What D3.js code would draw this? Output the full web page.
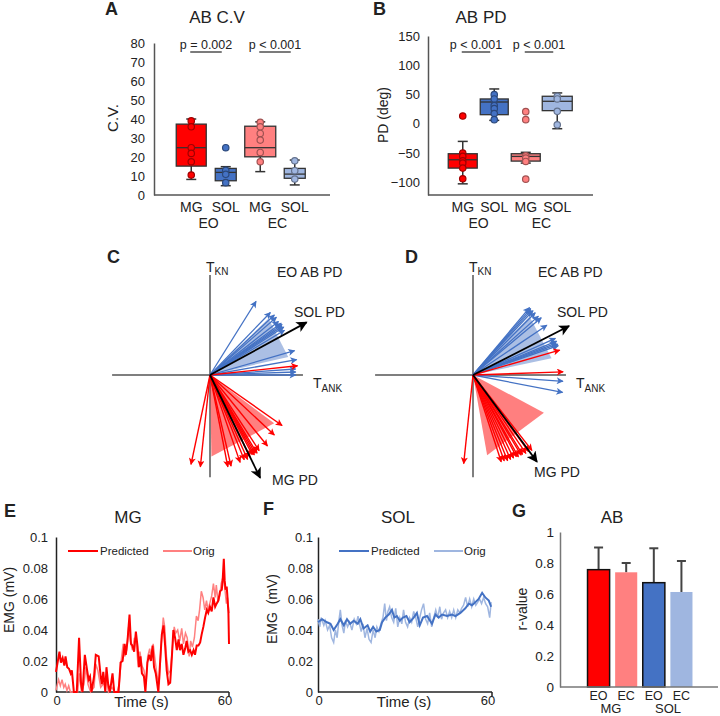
<!DOCTYPE html>
<html>
<head>
<meta charset="utf-8">
<script src="https://cdn.jsdelivr.net/npm/d3@7/dist/d3.min.js"></script>
<style>
body { margin: 0; background: #fff; }
text { font-family: "Liberation Sans", Arial, sans-serif; fill: #222; }
</style>
</head>
<body>
<script>
// ---- data ----
var boxGroups = ["MG EO", "SOL EO", "MG EC", "SOL EC"];
var boxMuscle = ["MG", "SOL", "MG", "SOL"];
var boxCond = ["EO", "EC"];
var boxColors = ["#ff0000", "#4472c4", "#ff8080", "#9fb6e0"];

// A: C.V. boxes
var cvTicks = [0, 10, 20, 30, 40, 50, 60, 70, 80];
var cvLo  = [8.2, 4.9, 12.3, 5.3];
var cvQ1  = [15.2, 7.5, 20.1, 8.8];
var cvMed = [24.9, 11.9, 24.9, 11.0];
var cvQ3  = [37.3, 14.0, 36.2, 14.0];
var cvHi  = [40.0, 14.9, 38.5, 18.4];
var cvPts = [[39, 35.9, 24.9, 21.9, 17.5, 10.5], [24.9, 13, 10.9, 6.5], [38.2, 35.9, 32.4, 28.9, 22.4, 17.5], [18, 12.8, 8.4]];
var cvP = ["p = 0.002", "p < 0.001"];

// B: PD boxes
var pdTicks = [-100, -50, 0, 50, 100, 150];
var pdLo  = [-102.9, 5.7, -67.4, -8.6];
var pdQ1  = [-76, 15.4, -64, 22.3];
var pdMed = [-61.7, 37.1, -56, 38.3];
var pdQ3  = [-51.4, 42.3, -51.4, 46.9];
var pdHi  = [-30.3, 59.4, -49, 52.6];
var pdPts = [[13.1, -50.3, -56, -63.4, -67.4, -76, -94.3], [49.7, 42.3, 30.9, 25.7, 17.4, 6.9], [20.6, 6.9, -54.9, -58.9, -64.6, -94.9], [46.9, 42.3, 21.1, -2]];
var pdP = ["p < 0.001", "p < 0.001"];

// C / D: PD vectors (angle deg, length)
var cBlueAng = [58, 46, 43, 41, 38, 36, 35, 34, 33, 31, 16, 10, 4, 2, 0];
var cBlueLen = [0.79, 0.79, 0.8, 0.8, 0.79, 0.8, 0.8, 0.79, 0.8, 0.79, 0.8, 0.8, 0.78, 0.78, 0.78];
var cRedAng = [6, -35, -43, -51, -57, -59, -60, -61, -62, -64, -66, -68, -71, -77, -79, -96, -102];
var cRedLen = [0.8, 0.8, 0.8, 0.83, 0.82, 0.83, 0.82, 0.83, 0.82, 0.83, 0.84, 0.83, 0.84, 0.85, 0.85, 0.84, 0.83];
var cMeanAng = [28.6, -64];
var cMeanLen = [1.0, 1.04];
var cWedgeBlue = [13, 44];
var cWedgeRed = [-37, -89];

var dBlueAng = [50, 49, 48, 47, 45, 42, 40, 34, 24, 22, 21, 20, 19, -4, -11];
var dBlueLen = [0.8, 0.8, 0.79, 0.8, 0.8, 0.8, 0.81, 0.81, 0.82, 0.82, 0.81, 0.82, 0.82, 0.82, 0.83];
var dRedAng = [16, 2, -52, -54, -56, -58, -59, -61, -62, -64, -66, -68, -70, -72, -96];
var dRedLen = [0.82, 0.82, 0.87, 0.86, 0.86, 0.85, 0.85, 0.85, 0.84, 0.84, 0.84, 0.84, 0.83, 0.83, 0.81];
var dMeanAng = [27, -53.6];
var dMeanLen = [0.98, 0.98];
var dWedgeBlue = [12, 46];
var dWedgeRed = [-28, -80];

// E / F: EMG traces [time s, mV]
var mgPred = [[0,0.013],[1.2,0.026],[1.7,0.019],[2.3,0.022],[2.9,0.017],[3.3,0.023],[3.9,0.016],[4.5,0.015],[5.1,0.012],[5.5,0.014],[6.2,0],[7.2,0],[8.0,0.035],[8.7,0.005],[9.2,0],[10.0,0.024],[10.8,0.014],[11.3,0.008],[11.8,0.010],[12.3,0],[13.2,0.010],[13.8,0.024],[14.8,0.023],[15.5,0.010],[15.9,0.005],[16.4,0.013],[17.1,0],[17.5,0.016],[18.1,0.005],[18.7,0],[19.6,0.012],[20.2,0],[21.7,0],[22.4,0.019],[23.1,0.020],[23.8,0.031],[24.2,0.024],[24.8,0.033],[25.5,0.050],[26.0,0.031],[26.5,0.030],[27.1,0.026],[27.7,0.039],[28.3,0.029],[28.8,0.016],[29.3,0.023],[29.8,0.012],[30.5,0.010],[31.0,0],[31.7,0.019],[32.3,0.024],[32.9,0.020],[33.5,0.030],[34.0,0.016],[34.6,0.012],[35.5,0],[36.1,0.019],[36.7,0.037],[37.3,0.043],[37.8,0.031],[38.4,0.014],[39.0,0.005],[39.6,0.006],[40.2,0.023],[40.7,0.040],[41.3,0.035],[41.9,0.027],[42.5,0.034],[43.0,0.027],[43.6,0.031],[44.2,0.024],[44.8,0.028],[45.3,0.033],[45.9,0.026],[46.5,0.027],[47.1,0.024],[47.7,0.027],[48.2,0.024],[48.8,0.030],[49.4,0.030],[50.0,0.032],[50.5,0.037],[51.1,0.042],[51.7,0.048],[52.3,0.053],[52.8,0.051],[53.4,0.055],[54.0,0.052],[54.6,0.061],[55.2,0.055],[55.7,0.057],[56.3,0.059],[56.9,0.065],[57.5,0.066],[57.8,0.072],[58.2,0.086],[58.5,0.072],[58.8,0.066],[59.2,0.068],[59.4,0.063],[59.8,0.051],[60.0,0.031]];
var mgOrig = [[0,0.001],[0.5,0.005],[0.9,0.008],[1.5,0.004],[2.1,0.008],[2.7,0.003],[3.2,0.005],[3.8,0.001],[4.4,0.004],[5.0,0],[7.5,0],[8.1,0.012],[8.8,0],[9.7,0.005],[10.4,0.016],[11.1,0.005],[12.0,0],[13.2,0.003],[13.8,0.018],[14.5,0.014],[15.5,0.003],[16.4,0.005],[17.3,0.010],[18.2,0],[19.4,0.003],[20.3,0],[21.2,0],[21.9,0.005],[22.6,0.020],[23.3,0.031],[23.9,0.023],[24.5,0.027],[25.2,0.042],[25.8,0.033],[26.5,0.027],[27.2,0.035],[27.9,0.031],[28.5,0.016],[29.1,0.026],[29.8,0.017],[30.5,0.014],[31.2,0.005],[31.8,0.023],[32.5,0.028],[33.1,0.020],[33.7,0.031],[34.4,0.020],[35.1,0.010],[35.8,0.005],[36.5,0.031],[37.2,0.048],[37.7,0.042],[38.3,0.023],[39.0,0.012],[39.7,0.014],[40.4,0.029],[41.0,0.042],[41.5,0.038],[42.2,0.040],[42.9,0.033],[43.6,0.041],[44.2,0.031],[44.9,0.038],[45.5,0.035],[46.2,0.023],[46.7,0.033],[47.3,0.029],[48.0,0.035],[48.7,0.049],[49.3,0.046],[49.8,0.053],[50.4,0.065],[51.0,0.061],[51.6,0.053],[52.2,0.059],[52.7,0.053],[53.3,0.057],[54.0,0.062],[54.6,0.070],[55.2,0.061],[55.6,0.069],[56.2,0.058],[56.8,0.062],[57.3,0.070],[57.9,0.074],[58.5,0.068],[59.1,0.057],[59.5,0.061],[60.0,0.051]];
var solPred = [[0,0.045],[1.4,0.047],[3.1,0.045],[4.3,0.044],[5.4,0.040],[6.8,0.044],[7.7,0.047],[8.9,0.043],[10.0,0.047],[11.1,0.044],[12.3,0.046],[13.7,0.044],[14.6,0.047],[15.7,0.041],[17.1,0.043],[18.0,0.039],[19.0,0.042],[20.1,0.039],[21.3,0.040],[22.1,0.045],[23.2,0.048],[24.4,0.050],[25.5,0.053],[26.3,0.048],[27.2,0.049],[28.2,0.046],[29.3,0.048],[30.5,0.049],[31.6,0.045],[33.0,0.048],[34.1,0.051],[35.1,0.043],[36.2,0.048],[37.6,0.049],[39.3,0.044],[40.5,0.050],[41.6,0.048],[42.8,0.050],[44.5,0.049],[46.2,0.050],[47.4,0.049],[49.1,0.051],[50.8,0.054],[52.0,0.057],[53.1,0.056],[54.3,0.058],[55.4,0.060],[56.6,0.064],[57.7,0.061],[58.9,0.059],[59.7,0.055]];
var solOrig = [[0,0.047],[0.6,0.042],[1.1,0.048],[2.0,0.043],[2.5,0.046],[3.3,0.040],[4.0,0.043],[4.7,0.035],[5.4,0.032],[6.0,0.040],[6.6,0.035],[7.2,0.046],[7.7,0.053],[8.3,0.043],[8.9,0.038],[9.5,0.046],[10.2,0.042],[10.9,0.045],[11.7,0.040],[12.5,0.047],[13.2,0.044],[13.8,0.049],[14.4,0.043],[14.9,0.039],[15.5,0.044],[16.2,0.035],[16.9,0.041],[17.6,0.034],[18.3,0.032],[19.0,0.040],[19.7,0.035],[20.3,0.042],[21.0,0.039],[21.7,0.044],[22.4,0.048],[23.0,0.057],[23.6,0.046],[24.1,0.052],[24.7,0.055],[25.4,0.048],[26.1,0.045],[26.8,0.054],[27.5,0.042],[28.2,0.048],[28.9,0.044],[29.5,0.053],[30.2,0.045],[30.9,0.042],[31.6,0.048],[32.3,0.045],[33.0,0.052],[33.7,0.048],[34.4,0.042],[35.1,0.048],[35.7,0.053],[36.4,0.057],[37.1,0.047],[37.8,0.044],[38.5,0.051],[39.2,0.042],[39.9,0.048],[40.6,0.053],[41.3,0.048],[42.0,0.055],[42.6,0.047],[43.3,0.051],[44.0,0.053],[44.7,0.048],[45.4,0.052],[46.1,0.048],[46.8,0.053],[47.5,0.048],[48.2,0.053],[48.9,0.051],[49.5,0.054],[50.2,0.056],[50.9,0.061],[51.6,0.055],[52.3,0.060],[53.0,0.055],[53.7,0.060],[54.4,0.056],[55.1,0.058],[55.7,0.060],[56.4,0.057],[57.1,0.061],[57.8,0.057],[58.5,0.055],[59.2,0.048],[59.7,0.058]];
var emgTicks = [0, 0.02, 0.04, 0.06, 0.08, 0.1];
var emgTickLabels = ["0", "0.02", "0.04", "0.06", "0.08", "0.1"];

// G: r-values
var rGroups = ["MG EO", "MG EC", "SOL EO", "SOL EC"];
var rCond = ["EO", "EC", "EO", "EC"];
var rMean = [0.757, 0.74, 0.673, 0.613];
var rErrTop = [0.9, 0.8, 0.895, 0.813];
var rColors = ["#ff0000", "#ff8080", "#4472c4", "#9fb6e0"];
var rTicks = [0, 0.2, 0.4, 0.6, 0.8, 1];
var rTickLabels = ["0", "0.2", "0.4", "0.6", "0.8", "1"];

var svg = d3.select("body").append("svg")
    .attr("width", 720)
    .attr("height", 716);

function label(x, y, t, size, opts) {
  opts = opts || {};
  var el = svg.append("text")
      .attr("x", x).attr("y", y)
      .attr("font-size", size + "px")
      .attr("text-anchor", opts.anchor || "start")
      .text(t);
  if (opts.bold) el.attr("font-weight", "bold");
  if (opts.rotate) el.attr("transform", "rotate(-90," + x + "," + y + ")");
  return el;
}

// ---- box plot panels (A, B) ----
function boxPanel(o) {
  var g = svg.append("g");
  var x = d3.scaleBand().domain(boxGroups).range(o.xr);
  var y = d3.scaleLinear().domain(o.yd).range([195, o.ytop]);

  var yAxis = g.append("g")
      .attr("transform", "translate(" + o.axisX + ",0)")
      .call(d3.axisLeft(y).tickValues(o.ticks).tickSize(0).tickPadding(o.pad));
  yAxis.select(".domain").attr("stroke", "#555").attr("stroke-width", 1.5);
  yAxis.selectAll("text").attr("font-size", "13px").attr("fill", "#222")
      .attr("font-family", "Liberation Sans, Arial, sans-serif");

  g.append("line")
      .attr("x1", o.axisX).attr("x2", o.xEnd)
      .attr("y1", 195).attr("y2", 195)
      .attr("stroke", "#555").attr("stroke-width", 1.5);

  boxGroups.forEach(function(k, i) {
    var cx = x(k) + x.bandwidth() / 2;
    var w = o.bw[i];
    var col = boxColors[i];
    g.append("line").attr("x1", cx).attr("x2", cx)
        .attr("y1", y(o.lo[i])).attr("y2", y(o.hi[i]))
        .attr("stroke", "#333").attr("stroke-width", 1.5);
    [o.lo[i], o.hi[i]].forEach(function(v) {
      g.append("line").attr("x1", cx - 5).attr("x2", cx + 5)
          .attr("y1", y(v)).attr("y2", y(v))
          .attr("stroke", "#333").attr("stroke-width", 1.5);
    });
    g.append("rect")
        .attr("x", cx - w / 2).attr("width", w)
        .attr("y", y(o.q3[i])).attr("height", y(o.q1[i]) - y(o.q3[i]))
        .attr("fill", col).attr("stroke", "#333").attr("stroke-width", 1.3);
    g.append("line").attr("x1", cx - w / 2).attr("x2", cx + w / 2)
        .attr("y1", y(o.med[i])).attr("y2", y(o.med[i]))
        .attr("stroke", "#333").attr("stroke-width", 1.3);
    g.selectAll(null).data(o.pts[i]).enter().append("circle")
        .attr("cx", cx).attr("cy", function(d) { return y(d); })
        .attr("r", 3.2)
        .attr("fill", col)
        .attr("stroke", d3.color(col).darker(1.3))
        .attr("stroke-width", 1.2);
    label(cx, 212, boxMuscle[i], 14, {anchor: "middle"});
  });

  boxCond.forEach(function(c, j) {
    var c1 = x(boxGroups[j * 2]) + x.bandwidth() / 2;
    var c2 = x(boxGroups[j * 2 + 1]) + x.bandwidth() / 2;
    label((c1 + c2) / 2, 228, c, 14, {anchor: "middle"});
    // significance bar
    var l1 = c1 - 1, l2 = c2 - 4;
    g.append("line").attr("x1", l1).attr("x2", l2).attr("y1", 52).attr("y2", 52)
        .attr("stroke", "#333").attr("stroke-width", 1.3);
    label((l1 + l2) / 2, 49, o.p[j], 12.5, {anchor: "middle"});
  });
}

boxPanel({xr: [174, 312], yd: [0, 80], ytop: 43, axisX: 154, xEnd: 330, ticks: cvTicks, pad: 9,
  bw: [30, 21, 31, 21], lo: cvLo, q1: cvQ1, med: cvMed, q3: cvQ3, hi: cvHi, pts: cvPts, p: cvP});
boxPanel({xr: [447, 573], yd: [-122, 150], ytop: 36, axisX: 428, xEnd: 593, ticks: pdTicks, pad: 8,
  bw: [29, 28, 29, 30], lo: pdLo, q1: pdQ1, med: pdMed, q3: pdQ3, hi: pdHi, pts: pdPts, p: pdP});

label(105, 15, "A", 18, {bold: true});
label(373, 15, "B", 18, {bold: true});
label(217, 23, "AB C.V", 17, {anchor: "middle"});
label(481, 23, "AB PD", 17, {anchor: "middle"});
label(118, 118, "C.V.", 15, {anchor: "middle", rotate: true});
label(388, 115, "PD (deg)", 14, {anchor: "middle", rotate: true});

// ---- vector panels (C, D) ----
var defs = svg.append("defs");
function marker(id, col, w, h) {
  defs.append("marker")
      .attr("id", id)
      .attr("viewBox", "0 0 10 10")
      .attr("refX", 9).attr("refY", 5)
      .attr("markerUnits", "userSpaceOnUse")
      .attr("markerWidth", w).attr("markerHeight", h)
      .attr("orient", "auto")
    .append("path")
      .attr("d", "M0,0 L10,5 L0,10 L2.5,5 Z")
      .attr("fill", col);
}
marker("ah-blue", "#4472c4", 8, 7);
marker("ah-red", "#ff0000", 8, 7);
marker("ah-black", "#000", 12, 11);

function vecPanel(o) {
  var g = svg.append("g");
  var r = d3.scaleLinear().domain([0, 1]).range([0, 110]);
  function pt(a, m) {
    var rad = a * Math.PI / 180;
    return [o.ox + r(m) * Math.cos(rad), o.oy - r(m) * Math.sin(rad)];
  }
  var axCol = "#555";
  var h0 = pt(180, 0.89), h1 = pt(0, 0.845), v0 = pt(90, 0.91), v1 = pt(-90, 0.93);
  g.append("line").attr("x1", h0[0]).attr("y1", h0[1]).attr("x2", h1[0]).attr("y2", h1[1])
      .attr("stroke", axCol).attr("stroke-width", 1.5);
  g.append("line").attr("x1", v0[0]).attr("y1", v0[1]).attr("x2", v1[0]).attr("y2", v1[1])
      .attr("stroke", axCol).attr("stroke-width", 1.5);

  function wedge(a, col, op) {
    var p1 = pt(a[0], 0.73), p2 = pt(a[1], 0.74);
    g.append("path")
        .attr("d", "M" + o.ox + "," + o.oy + "L" + p1.join(",") + "L" + p2.join(",") + "Z")
        .attr("fill", col).attr("fill-opacity", op);
  }
  wedge(o.wBlue, "#4472c4", 0.45);
  wedge(o.wRed, "#ff0000", 0.5);

  function arrows(ang, len, col, mk, sw) {
    ang.forEach(function(a, i) {
      var p = pt(a, len[i]);
      g.append("line")
          .attr("x1", o.ox).attr("y1", o.oy).attr("x2", p[0]).attr("y2", p[1])
          .attr("stroke", col).attr("stroke-width", sw)
          .attr("marker-end", "url(#" + mk + ")");
    });
  }
  arrows(o.blueAng, o.blueLen, "#4472c4", "ah-blue", 1.3);
  arrows(o.redAng, o.redLen, "#ff0000", "ah-red", 1.4);
  arrows(o.meanAng, o.meanLen, "#000", "ah-black", 1.8);
}

vecPanel({ox: 210, oy: 375, blueAng: cBlueAng, blueLen: cBlueLen, redAng: cRedAng, redLen: cRedLen,
  meanAng: cMeanAng, meanLen: cMeanLen, wBlue: cWedgeBlue, wRed: cWedgeRed});
vecPanel({ox: 473, oy: 375, blueAng: dBlueAng, blueLen: dBlueLen, redAng: dRedAng, redLen: dRedLen,
  meanAng: dMeanAng, meanLen: dMeanLen, wBlue: dWedgeBlue, wRed: dWedgeRed});

label(107, 263, "C", 18, {bold: true});
label(405, 263, "D", 18, {bold: true});
[[210, "EO AB PD", 277, 262], [473, "EC AB PD", 538, 258]].forEach(function(d) {
  var ox = d[0];
  var t = label(ox - 4, 272, "T", 14);
  t.append("tspan").attr("font-size", "10px").attr("dy", 3).text("KN");
  var ta = label(ox + 103, 388, "T", 14);
  ta.append("tspan").attr("font-size", "10px").attr("dy", 4).text("ANK");
  label(d[2], 277, d[1], 14);
  label(ox + 84, 317, "SOL PD", 14);
});
label(272, 485, "MG PD", 14);
label(534, 477, "MG PD", 14);

// ---- EMG traces (E, F) ----
function tsPanel(o) {
  var g = svg.append("g");
  var x = d3.scaleLinear().domain([0, 60]).range([o.x0, o.x1]);
  var y = d3.scaleLinear().domain([0, 0.1]).range([692, 537]);
  var yAxis = g.append("g")
      .attr("transform", "translate(" + o.x0 + ",0)")
      .call(d3.axisLeft(y).tickValues(emgTicks).tickSize(0).tickPadding(o.pad)
        .tickFormat(function(d, i) { return emgTickLabels[i]; }));
  yAxis.select(".domain").attr("stroke", "#222").attr("stroke-width", 1.5);
  yAxis.selectAll("text").attr("font-size", "13px").attr("fill", "#222")
      .attr("font-family", "Liberation Sans, Arial, sans-serif");
  g.append("line").attr("x1", o.x0).attr("x2", o.x1).attr("y1", 692).attr("y2", 692)
      .attr("stroke", "#222").attr("stroke-width", 1.5);
  g.append("line").attr("x1", o.x1).attr("x2", o.x1).attr("y1", 692).attr("y2", 696)
      .attr("stroke", "#222").attr("stroke-width", 1.5);

  var line = d3.line().x(function(d) { return x(d[0]); }).y(function(d) { return y(d[1]); });
  g.append("path").datum(o.orig).attr("d", line)
      .attr("fill", "none").attr("stroke", o.light).attr("stroke-width", 1.5);
  g.append("path").datum(o.pred).attr("d", line)
      .attr("fill", "none").attr("stroke", o.dark).attr("stroke-width", 2);

  label(x(0) + 1, 705, "0", 13, {anchor: "middle"});
  label(x(60) - 4, 705, "60", 13, {anchor: "middle"});
  label((o.x0 + o.x1) / 2 - 1, 707, "Time (s)", 15, {anchor: "middle"});

  // legend
  g.append("line").attr("x1", o.leg[0]).attr("x2", o.leg[0] + 30).attr("y1", 551).attr("y2", 551)
      .attr("stroke", o.dark).attr("stroke-width", 2);
  label(o.leg[0] + 32, 555, "Predicted", 11.5);
  g.append("line").attr("x1", o.leg[1]).attr("x2", o.leg[1] + 29).attr("y1", 551).attr("y2", 551)
      .attr("stroke", o.light).attr("stroke-width", 2);
  label(o.leg[1] + 30, 555, "Orig", 11.5);
}

tsPanel({x0: 56, x1: 229, pad: 8, pred: mgPred, orig: mgOrig, dark: "#ff0000", light: "#ff8080", leg: [68, 163]});
tsPanel({x0: 318, x1: 492, pad: 5, pred: solPred, orig: solOrig, dark: "#4472c4", light: "#9fb6e0", leg: [339, 434]});

label(4, 517, "E", 18, {bold: true});
label(263, 515, "F", 18, {bold: true});
label(128, 523, "MG", 17, {anchor: "middle"});
label(398, 523, "SOL", 17, {anchor: "middle"});
label(14, 600, "EMG (mV)", 14, {anchor: "middle", rotate: true}).style("white-space", "pre");
label(277, 609, "EMG  (mV)", 14, {anchor: "middle", rotate: true}).style("white-space", "pre");

// ---- r-value bars (G) ----
(function() {
  var g = svg.append("g");
  var x = d3.scaleBand().domain(rGroups).range([582, 698]).padding(0.2);
  var y = d3.scaleLinear().domain([0, 1]).range([687, 532]);
  var yAxis = g.append("g")
      .attr("transform", "translate(560,0)")
      .call(d3.axisLeft(y).tickValues(rTicks).tickSize(0).tickPadding(6)
        .tickFormat(function(d, i) { return rTickLabels[i]; }));
  yAxis.select(".domain").attr("stroke", "#777").attr("stroke-width", 1.5);
  yAxis.selectAll("text").attr("font-size", "13.5px").attr("fill", "#222")
      .attr("font-family", "Liberation Sans, Arial, sans-serif");

  rGroups.forEach(function(k, i) {
    var cx = x(k) + x.bandwidth() / 2;
    g.append("line").attr("x1", cx).attr("x2", cx)
        .attr("y1", y(rMean[i])).attr("y2", y(rErrTop[i]))
        .attr("stroke", "#444").attr("stroke-width", 2);
    g.append("line").attr("x1", cx - 4.5).attr("x2", cx + 4.5)
        .attr("y1", y(rErrTop[i])).attr("y2", y(rErrTop[i]))
        .attr("stroke", "#444").attr("stroke-width", 2);
    var bar = g.append("rect")
        .attr("x", x(k)).attr("width", x.bandwidth())
        .attr("y", y(rMean[i])).attr("height", y(0) - y(rMean[i]))
        .attr("fill", rColors[i]);
    if (rCond[i] === "EO") bar.attr("stroke", "#111").attr("stroke-width", 1.5);
    label(cx, 700, rCond[i], 12.5, {anchor: "middle"});
  });
  g.append("line").attr("x1", 560).attr("x2", 718).attr("y1", 687).attr("y2", 687)
      .attr("stroke", "#777").attr("stroke-width", 1.5);
  label(611, 713, "MG", 13, {anchor: "middle"});
  label(668, 713, "SOL", 13, {anchor: "middle"});
})();

label(512, 517, "G", 18, {bold: true});
label(612, 523, "AB", 17, {anchor: "middle"});
label(527, 609, "r-value", 14, {anchor: "middle", rotate: true});
</script>
</body>
</html>
